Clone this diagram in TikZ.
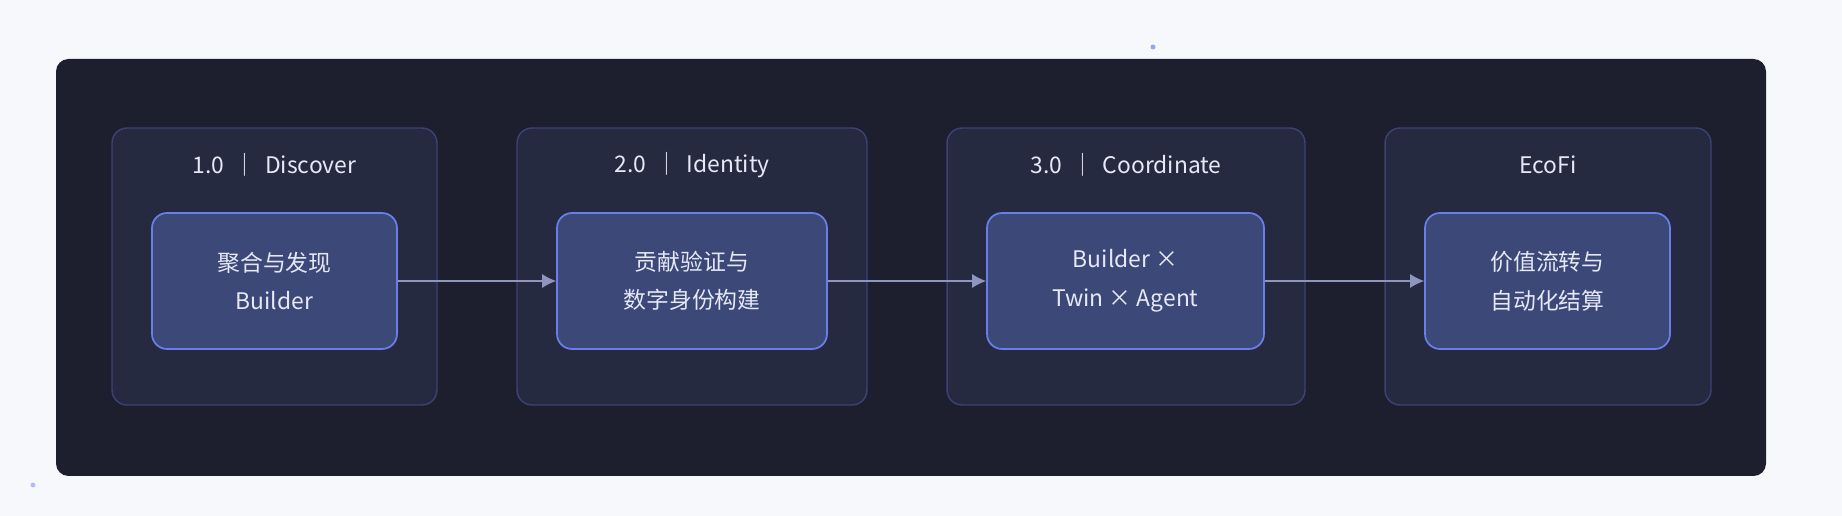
\documentclass[tikz,border=0pt]{standalone}
\usepackage{fontspec}
\setmainfont{Noto Sans CJK SC}
\usetikzlibrary{arrows.meta}
\definecolor{pagebg}{HTML}{F7F8FC}
\definecolor{panelbg}{HTML}{1E1F2E}
\definecolor{stagebg}{HTML}{252A40}
\definecolor{stageline}{HTML}{3C4275}
\definecolor{cardbg}{HTML}{3B4878}
\definecolor{cardline}{HTML}{6A7EE8}
\definecolor{textc}{HTML}{E6E8F5}
\definecolor{flowc}{HTML}{8E96C0}
\tikzset{
  stage/.style={draw=stageline, fill=stagebg, rounded corners=0.3cm, line width=0.8pt, inner sep=0pt},
  card/.style={draw=cardline, fill=cardbg, rounded corners=0.3cm, line width=1pt,
    minimum height=2.72cm, align=center, text=textc, font=\fontsize{13}{22}\selectfont},
  title/.style={text=textc, font=\fontsize{13}{16}\selectfont},
  flow/.style={draw=flowc, line width=0.7pt, -{Latex[length=8pt,width=8pt]}}
}
\begin{document}
\begin{tikzpicture}[x=0.02cm, y=-0.02cm]
  \fill[pagebg] (0,0) rectangle (1842,516);
  \useasboundingbox (0,0) rectangle (1842,516);
  \fill[panelbg, rounded corners=0.25cm] (56,59) rectangle (1766,476);
  \fill[cardline!70] (1153,47) circle (2.5);
  \fill[cardline!50] (33,485) circle (2.5);
  % stages
  \node[stage, minimum width=6.5cm, minimum height=5.54cm] (s1) at (274.5,266.5) {};
  \node[stage, minimum width=7cm, minimum height=5.54cm] (s2) at (692,266.5) {};
  \node[stage, minimum width=7.16cm, minimum height=5.54cm] (s3) at (1126,266.5) {};
  \node[stage, minimum width=6.52cm, minimum height=5.54cm] (s4) at (1548,266.5) {};
  \node[title] (t1) at (274.5,165) {1.0 \,｜\, Discover};
  \node[title] (t2) at (692,165) {2.0 \,｜\, Identity};
  \node[title] (t3) at (1126,165) {3.0 \,｜\, Coordinate};
  \node[title] (t4) at (1548,165) {EcoFi};
  % cards
  \node[card, minimum width=4.9cm] (c1) at (274.5,281) {聚合与发现\\Builder};
  \node[card, minimum width=5.4cm] (c2) at (692,281) {贡献验证与\\数字身份构建};
  \node[card, minimum width=5.54cm] (c3) at (1125.5,281) {Builder ×\\Twin × Agent};
  \node[card, minimum width=4.9cm] (c4) at (1547.5,281) {价值流转与\\自动化结算};
  \draw[flow] (c1) -- (c2);
  \draw[flow] (c2) -- (c3);
  \draw[flow] (c3) -- (c4);
\end{tikzpicture}
\end{document}
